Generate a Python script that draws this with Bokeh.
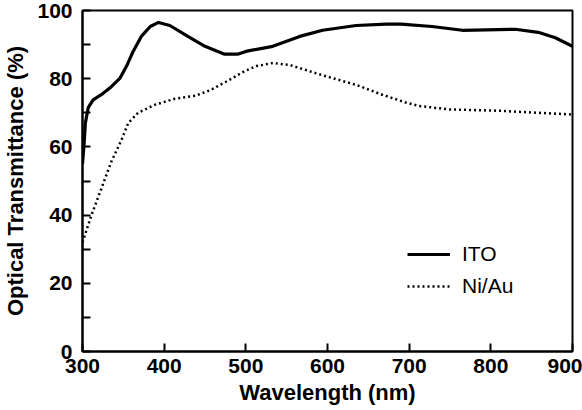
from bokeh.plotting import figure
from bokeh.models import Legend, LegendItem, FixedTicker, Range1d
from bokeh.embed import file_html
from bokeh.resources import INLINE

# ITO transmittance
ito_wl = [300, 302, 303.5, 307, 313, 323, 335, 346, 354, 362, 372, 383, 393, 407, 429, 450,
          474, 490, 500, 533, 566, 594, 635, 672, 690, 728, 765, 830, 858, 879, 900]
ito_t = [55, 61, 67, 71.5, 73.8, 75.3, 77.6, 80.2, 83.7, 88, 92.4, 95.3, 96.5, 95.6, 92.4, 89.5,
         87.2, 87.2, 88, 89.5, 92.4, 94.2, 95.6, 96, 96, 95.3, 94.2, 94.5, 93.6, 92, 89.5]

# Ni/Au transmittance
niau_wl = [300, 311, 323, 335, 348, 356, 368, 389, 413, 438, 457, 478, 499, 513, 533, 554,
           594, 635, 667, 696, 712, 749, 810, 858, 900]
niau_t = [32, 40, 47.7, 55.5, 62.2, 67, 70, 72.4, 74.1, 75, 76.7, 79.4, 82.3, 83.7, 84.6, 84,
          81, 78.2, 75.3, 73, 72, 71, 70.6, 70, 69.5]

x_ticks = [300, 400, 500, 600, 700, 800, 900]
y_ticks = [0, 20, 40, 60, 80, 100]
y_minor = [10, 30, 50, 70, 90]

FONT = "Liberation Sans"

p = figure(width=582, height=410, output_backend="svg", toolbar_location=None,
           x_range=Range1d(300, 900), y_range=Range1d(0, 100),
           min_border_left=82, min_border_right=10, min_border_top=10, min_border_bottom=59)
p.background_fill_color = "white"
p.border_fill_color = "white"
p.outline_line_color = "black"
p.outline_line_width = 2
p.xgrid.visible = False
p.ygrid.visible = False

for ax in (p.xaxis[0], p.yaxis[0]):
    ax.axis_line_width = 2
    ax.axis_line_color = "black"
    ax.major_tick_in = 8
    ax.major_tick_out = 0
    ax.major_tick_line_width = 2
    ax.minor_tick_in = 8
    ax.minor_tick_out = 0
    ax.minor_tick_line_width = 2
    ax.major_label_text_font = FONT
    ax.major_label_text_font_style = "bold"
    ax.major_label_text_font_size = "21px"
    ax.major_label_text_color = "black"
    ax.axis_label_text_font = FONT
    ax.axis_label_text_font_style = "bold"
    ax.axis_label_text_font_size = "22px"
    ax.axis_label_text_color = "black"

p.xaxis[0].ticker = FixedTicker(ticks=x_ticks, minor_ticks=[])
p.yaxis[0].ticker = FixedTicker(ticks=y_ticks, minor_ticks=y_minor)
p.xaxis[0].major_label_standoff = 7
p.yaxis[0].major_label_standoff = 10
p.xaxis[0].axis_label = "Wavelength (nm)"
p.yaxis[0].axis_label = "Optical Transmittance (%)"
p.xaxis[0].axis_label_standoff = 4
p.yaxis[0].axis_label_standoff = 6

r1 = p.line(ito_wl, ito_t, line_color="black", line_width=3.2, line_join="round")
r2 = p.line(niau_wl, niau_t, line_color="black", line_width=2.5, line_dash="2 3")

legend = Legend(items=[LegendItem(label="ITO", renderers=[r1]),
                       LegendItem(label="Ni/Au", renderers=[r2])],
                location=(325, 53), padding=0, margin=0, spacing=8,
                glyph_width=43, glyph_height=22, label_standoff=12,
                label_text_font=FONT, label_text_font_size="21px",
                label_text_color="black",
                border_line_color=None, background_fill_alpha=0)
p.add_layout(legend, "center")

open("out.html", "w").write(file_html(p, INLINE))
